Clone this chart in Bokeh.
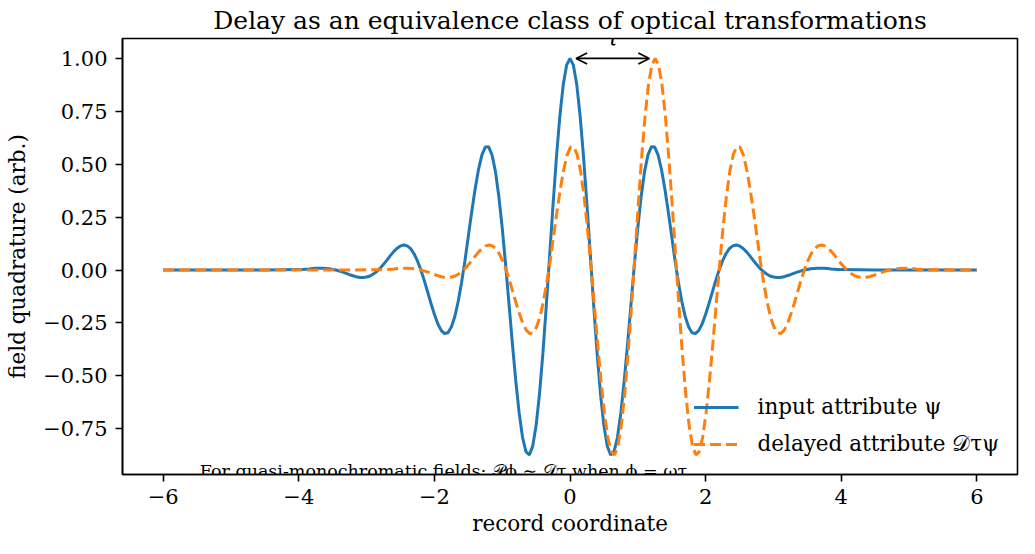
from bokeh.plotting import figure
from bokeh.models import (Range1d, FixedTicker, Label, Arrow, OpenHead,
                          Legend, LegendItem)
from bokeh.embed import file_html
from bokeh.resources import INLINE

# ---------------- data ----------------
# input field psi sampled for x >= 0 (the curve is symmetric about 0)
pos_x = [0.00, 0.05, 0.10, 0.15, 0.20, 0.25, 0.30, 0.35, 0.40, 0.45,
         0.50, 0.55, 0.60, 0.65, 0.70, 0.75, 0.80, 0.85, 0.90, 0.95,
         1.00, 1.05, 1.10, 1.15, 1.20, 1.25, 1.30, 1.35, 1.40, 1.45,
         1.50, 1.55, 1.60, 1.65, 1.70, 1.75, 1.80, 1.85, 1.90, 1.95,
         2.00, 2.05, 2.10, 2.15, 2.20, 2.25, 2.30, 2.35, 2.40, 2.45,
         2.50, 2.55, 2.60, 2.65, 2.70, 2.75, 2.80, 2.85, 2.90, 2.95,
         3.00, 3.05, 3.10, 3.15, 3.20, 3.25, 3.30, 3.35, 3.40, 3.45,
         3.50, 3.55, 3.60, 3.65, 3.70, 3.75, 3.80, 3.85, 3.90, 3.95,
         4.00, 4.50, 5.00, 5.50, 6.00]
pos_psi = [1.000, 0.968, 0.875, 0.726, 0.533, 0.309, 0.069, -0.171, -0.394, -0.586,
           -0.735, -0.832, -0.874, -0.858, -0.790, -0.675, -0.523, -0.347, -0.159, 0.027,
           0.200, 0.349, 0.466, 0.544, 0.582, 0.581, 0.543, 0.474, 0.382, 0.274,
           0.159, 0.043, -0.060, -0.150, -0.221, -0.269, -0.296, -0.300, -0.285, -0.254,
           -0.209, -0.158, -0.103, -0.049, 0.001, 0.043, 0.077, 0.101, 0.114, 0.118,
           0.114, 0.103, 0.087, 0.068, 0.047, 0.027, 0.009, -0.007, -0.019, -0.028,
           -0.033, -0.035, -0.035, -0.032, -0.027, -0.022, -0.016, -0.010, -0.005, 0.000,
           0.003, 0.006, 0.007, 0.008, 0.008, 0.008, 0.007, 0.005, 0.004, 0.003,
           0.002, 0.000, 0.000, 0.000, 0.000]

tau = 1.257          # delay
x_min, x_max = -6.0, 6.0

record_x = [-v for v in reversed(pos_x[1:])] + pos_x
input_psi = list(reversed(pos_psi[1:])) + pos_psi

delayed_x = [x_min] + [x + tau for x in record_x if x + tau <= x_max] + [x_max]
delayed_psi = [0.0] + [y for x, y in zip(record_x, input_psi) if x + tau <= x_max] + [0.0]

x_ticks = [-6, -4, -2, 0, 2, 4, 6]
x_tick_labels = ["\u22126", "\u22124", "\u22122", "0", "2", "4", "6"]
y_ticks = [-0.75, -0.5, -0.25, 0.0, 0.25, 0.5, 0.75, 1.0]
y_tick_labels = ["\u22120.75", "\u22120.50", "\u22120.25", "0.00", "0.25", "0.50", "0.75", "1.00"]

title_text = "Delay as an equivalence class of optical transformations"
x_label = "record coordinate"
y_label = "field quadrature (arb.)"
note_text = "For quasi-monochromatic fields: \U0001D4AB\u03d5 \u223c \U0001D49F\u03c4 when \u03d5 = \u03c9\u03c4."
legend_labels = ["input attribute \u03c8", "delayed attribute \U0001D49F\u03c4\u03c8"]

# ---------------- figure ----------------
FONT = "DejaVu Serif"
BLUE = "#1f77b4"
ORANGE = "#ff7f0e"

p = figure(width=1019, height=538, output_backend="svg", toolbar_location=None,
           x_range=Range1d(-6.6, 6.6), y_range=Range1d(-0.966, 1.094),
           min_border_left=122, min_border_right=2, min_border_top=38,
           min_border_bottom=60)

p.title.text = title_text
p.title.text_font = FONT
p.title.text_font_size = "25px"
p.title.text_font_style = "normal"
p.title.align = "center"
p.title.text_color = "black"
p.title.offset = 0
p.title.standoff = 7

p.grid.visible = False
p.outline_line_color = "black"
p.outline_line_width = 1.6
p.outline_line_alpha = 1.0
p.background_fill_color = "white"
p.border_fill_color = "white"

for ax in (p.xaxis[0], p.yaxis[0]):
    ax.axis_line_color = "black"
    ax.axis_line_width = 1.6
    ax.major_tick_line_color = "black"
    ax.major_tick_line_width = 1.6
    ax.major_tick_out = 7
    ax.major_tick_in = 0
    ax.minor_tick_line_color = None
    ax.major_label_text_font = FONT
    ax.major_label_text_font_size = "21px"
    ax.major_label_text_color = "black"
    ax.axis_label_text_font = FONT
    ax.axis_label_text_font_size = "21.5px"
    ax.axis_label_text_font_style = "normal"
    ax.axis_label_text_color = "black"

p.xaxis.ticker = FixedTicker(ticks=x_ticks)
p.xaxis.major_label_overrides = {t: l for t, l in zip(x_ticks, x_tick_labels)}
p.yaxis.ticker = FixedTicker(ticks=y_ticks)
p.yaxis.major_label_overrides = {t: l for t, l in zip(y_ticks, y_tick_labels)}
p.xaxis.axis_label = x_label
p.yaxis.axis_label = y_label
p.xaxis.major_label_standoff = 7
p.yaxis.major_label_standoff = 8
p.xaxis.axis_label_standoff = 4
p.yaxis.axis_label_standoff = 10

# annotation text (behind curves)
note = Label(x=-5.46, y=-0.949, text=note_text, text_font=FONT,
             text_font_size="17.5px", text_color="black",
             text_baseline="alphabetic", text_align="left", level="underlay")
p.add_layout(note)

r_in = p.line(record_x, input_psi, line_color=BLUE, line_width=3)
r_del = p.line(delayed_x, delayed_psi, line_color=ORANGE, line_width=3,
               line_dash="11 5")

# delay arrow and tau label
arrow = Arrow(x_start=0.09, y_start=1.0, x_end=tau - 0.087, y_end=1.0,
              line_color="black", line_width=1.7,
              start=OpenHead(size=11, line_color="black", line_width=1.7),
              end=OpenHead(size=11, line_color="black", line_width=1.7))
p.add_layout(arrow)
tau_label = Label(x=tau / 2, y=1.094, text="\u03c4", text_font=FONT,
                  text_font_style="italic", text_font_size="22px",
                  text_color="black", text_align="center",
                  text_baseline="alphabetic")
p.add_layout(tau_label)

legend = Legend(items=[LegendItem(label=legend_labels[0], renderers=[r_in]),
                       LegendItem(label=legend_labels[1], renderers=[r_del])],
                location="bottom_right", border_line_alpha=0,
                background_fill_alpha=0, label_text_font=FONT,
                label_text_font_size="21.5px", label_text_color="black",
                glyph_width=45, glyph_height=24, label_standoff=19,
                label_height=24, spacing=12, padding=8, margin=10)
p.add_layout(legend)

open("out.html", "w").write(file_html(p, INLINE))
